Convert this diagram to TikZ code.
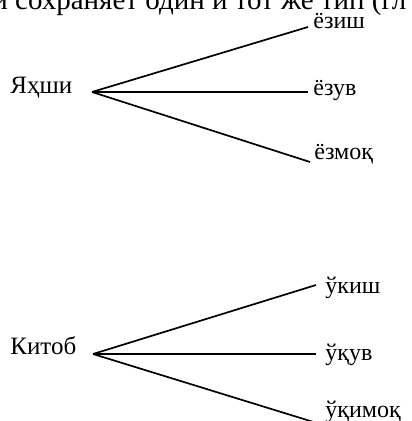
\documentclass[tikz,border=0pt]{standalone}
\usepackage{fontspec}
\setmainfont{Liberation Serif}

\tikzset{
	word/.style={inner sep=0pt, anchor=base west, font=\fontsize{12}{14}\selectfont},
	stem/.style={inner sep=0pt, anchor=base west, font=\fontsize{12.5}{14}\selectfont},
	branch/.style={line width=0.85pt, black},
}

\begin{document}
\begin{tikzpicture}[x=0.5pt,y=-0.5pt]
	
	% --- Frame
	\useasboundingbox (0,0) rectangle (411,421);
	\clip (0,0) rectangle (411,421);
	
	% --- Cut line of running text
	\node[inner sep=0pt, anchor=base west, font=\fontsize{14.5}{16}\selectfont] (runtext) at (-8,10) {и сохраняет один и тот же тип (гл};
	
	% --- First tree
	\node[stem] (yakhshi) at (10,94) {Яҳши};
	\coordinate (yfork) at (92,92);
	\coordinate (yend1) at (308,27);
	\coordinate (yend2) at (308,92);
	\coordinate (yend3) at (310,162);
	\node[word] (yozish) at (313,29) {ёзиш};
	\node[word] (yozuv) at (313,96) {ёзув};
	\node[word] (yozmoq) at (314,160) {ёзмоқ};
	\foreach \e in {yend1,yend2,yend3}{
		\draw[branch] (yfork) -- (\e);
	}
	
	% --- Second tree
	\node[stem] (kitob) at (10,354) {Китоб};
	\coordinate (kfork) at (93,354);
	\coordinate (kend1) at (316,285);
	\coordinate (kend2) at (316,354);
	\coordinate (kend3) at (320,424);
	\node[word] (oqish) at (325,293) {ўкиш};
	\node[word] (oquv) at (325,360) {ўқув};
	\node[word] (oqimoq) at (325,417) {ўқимоқ};
	\foreach \e in {kend1,kend2,kend3}{
		\draw[branch] (kfork) -- (\e);
	}
	
\end{tikzpicture}
\end{document}
